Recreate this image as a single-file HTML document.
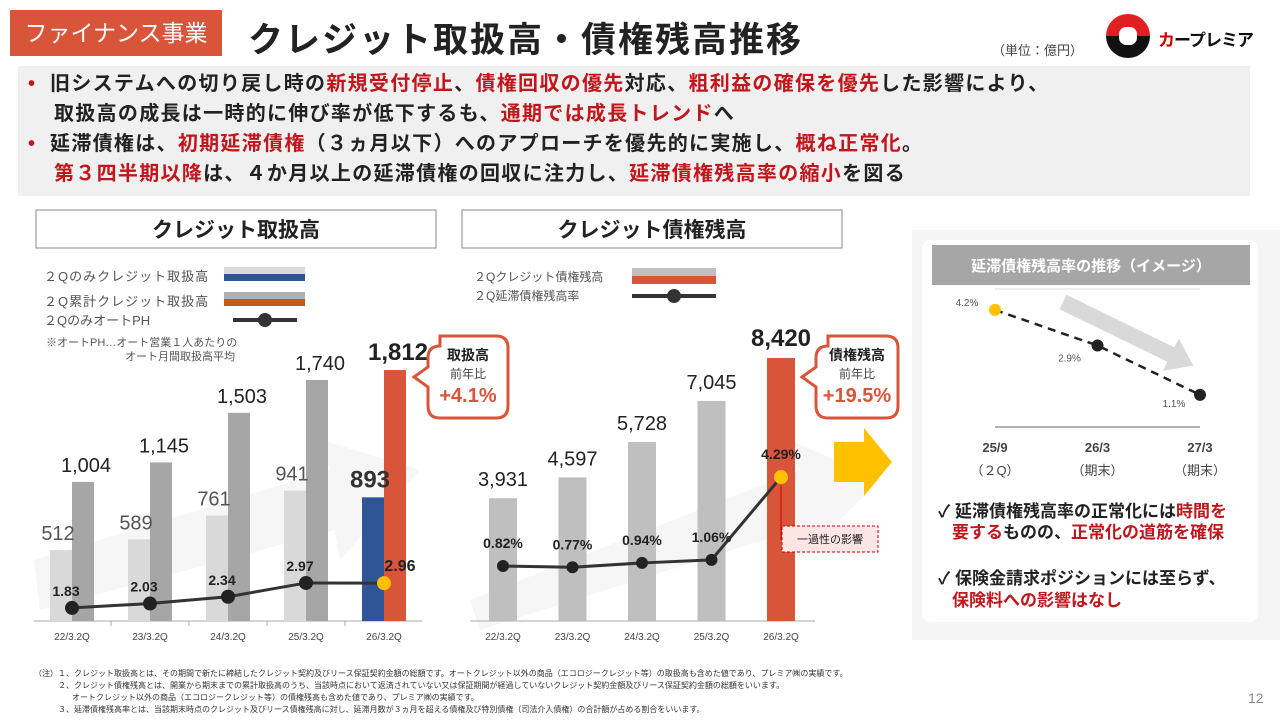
<!DOCTYPE html>
<html><head><meta charset="utf-8">
<style>
*{margin:0;padding:0;box-sizing:border-box}
body{width:1280px;height:720px;background:#fff;position:relative;overflow:hidden;font-family:"Liberation Sans","Noto Sans CJK JP",sans-serif;color:#222}
.a{position:absolute}
.r{color:#c0161c}
.bl{font-size:20px;font-weight:bold;line-height:30px;letter-spacing:1.3px;white-space:nowrap}
</style></head><body>
<div class="a" style="left:10px;top:10px;width:212px;height:46px;background:#d9553a;color:#fff;font-size:23px;line-height:46px;text-align:center">ファイナンス事業</div>
<div class="a" style="left:248px;top:12px;font-size:35px;font-weight:bold;letter-spacing:2px">クレジット取扱高・債権残高推移</div>
<div class="a" style="left:992px;top:40px;font-size:13px;color:#444">（単位：億円）</div>
<div class="a" style="left:1106px;top:14px;width:44px;height:44px;border-radius:50%;background:linear-gradient(#e02020 50%,#111 50%)"><div style="position:absolute;left:13px;top:13px;width:18px;height:18px;background:#fff;border-radius:40%"></div></div>
<div class="a" style="left:1158px;top:26px;font-size:17px;font-weight:bold;color:#111;white-space:nowrap;letter-spacing:-1px"><span style="color:#c00">カ</span>ープレミア</div>
<div class="a" style="left:18px;top:66px;width:1232px;height:130px;background:#f0f0f0;padding:3px 0 0 10px">
<div class="bl"><span class="r">•</span>&nbsp; 旧システムへの切り戻し時の<span class="r">新規受付停止</span>、<span class="r">債権回収の優先</span>対応、<span class="r">粗利益の確保を優先</span>した影響により、</div>
<div class="bl" style="padding-left:26px">取扱高の成長は一時的に伸び率が低下するも、<span class="r">通期では成長トレンド</span>へ</div>
<div class="bl"><span class="r">•</span>&nbsp; 延滞債権は、<span class="r">初期延滞債権</span>（３ヵ月以下）へのアプローチを優先的に実施し、<span class="r">概ね正常化</span>。</div>
<div class="bl" style="padding-left:26px"><span class="r">第３四半期以降</span>は、４か月以上の延滞債権の回収に注力し、<span class="r">延滞債権残高率の縮小</span>を図る</div>
</div>
<div class="a" style="left:912px;top:230px;width:368px;height:410px;background:#f5f5f5"></div>
<svg class="a" id="svg" width="1280" height="720" style="left:0;top:0"></svg>
<div class="a" style="left:34px;top:668px;font-size:8px;line-height:12px;color:#333">
<div>（注）１、クレジット取扱高とは、その期間で新たに締結したクレジット契約及びリース保証契約金額の総額です。オートクレジット以外の商品（エコロジークレジット等）の取扱高も含めた値であり、プレミア㈱の実績です。</div>
<div style="padding-left:24px">２、クレジット債権残高とは、開業から期末までの累計取扱高のうち、当該時点において返済されていない又は保証期間が経過していないクレジット契約金額及びリース保証契約金額の総額をいいます。</div>
<div style="padding-left:38px">オートクレジット以外の商品（エコロジークレジット等）の債権残高も含めた値であり、プレミア㈱の実績です。</div>
<div style="padding-left:24px">３、延滞債権残高率とは、当該期末時点のクレジット及びリース債権残高に対し、延滞月数が３ヵ月を超える債権及び特別債権（司法介入債権）の合計額が占める割合をいいます。</div>
</div>
<div class="a" style="left:1248px;top:690px;font-size:14px;color:#888">12</div>
<script>
const catsL=["22/3.2Q","23/3.2Q","24/3.2Q","25/3.2Q","26/3.2Q"];
const q2Only=[512,589,761,941,893];
const q2Cum=[1004,1145,1503,1740,1812];
const autoPH=[1.83,2.03,2.34,2.97,2.96];
const catsM=["22/3.2Q","23/3.2Q","24/3.2Q","25/3.2Q","26/3.2Q"];
const balance=[3931,4597,5728,7045,8420];
const delinq=[0.82,0.77,0.94,1.06,4.29];
const catsR=["25/9","26/3","27/3"];
const catsR2=["（２Q）","（期末）","（期末）"];
const ratio=[4.2,2.9,1.1];

const S=document.getElementById('svg');const NS='http://www.w3.org/2000/svg';
function el(t,a,txt){const e=document.createElementNS(NS,t);for(const k in a)e.setAttribute(k,a[k]);if(txt!==undefined)e.textContent=txt;S.appendChild(e);return e;}
const F='"Liberation Sans","Noto Sans CJK JP",sans-serif';
let e;
e=el('rect',{x:36,y:210,width:400,height:38,fill:'#fff',stroke:'#888'});
e=el('text',{x:236,y:237,'text-anchor':'middle','font-size':21,'font-weight':'bold','font-family':F,fill:'#222'},'クレジット取扱高');
e=el('rect',{x:462,y:210,width:380,height:38,fill:'#fff',stroke:'#888'});
e=el('text',{x:652,y:237,'text-anchor':'middle','font-size':21,'font-weight':'bold','font-family':F,fill:'#222'},'クレジット債権残高');
// faint background arrows
e=el('polygon',{points:'34,560 330,470 322,440 420,470 340,560 335,530 40,610',fill:'#f6f6f6'});
e=el('polygon',{points:'470,600 800,470 790,440 880,480 800,560 795,530 480,630',fill:'#f6f6f6'});
const lg=[['２Qのみクレジット取扱高','#d9d9d9','#2f5597',275],['２Q累計クレジット取扱高','#b0b0b0','#c55a11',300]];
lg.forEach((g,i)=>{e=el('text',{x:44,y:g[3]+6,'font-size':13,'font-family':F,fill:'#555','letter-spacing':1},g[0]);
el('rect',{x:224,y:g[3]-8,width:81,height:7,fill:g[1]});el('rect',{x:224,y:g[3]-1,width:81,height:7,fill:g[2]});});
e=el('text',{x:44,y:325,'font-size':13,'font-family':F,fill:'#555'},'２QのみオートPH');
el('line',{x1:233,y1:320,x2:297,y2:320,stroke:'#333','stroke-width':4});el('circle',{cx:265,cy:320,r:7,fill:'#333'});
e=el('text',{x:46,y:346,'font-size':11,'font-family':F,fill:'#555'},'※オートPH…オート営業１人あたりの');
el('text',{x:125,y:360,'font-size':11,'font-family':F,fill:'#555'},'オート月間取扱高平均');
const base=621, kL=0.1385, x0L=72, dxL=78;
const xL=i=>x0L+i*dxL, yB=v=>base-v*kL, yPH=v=>648-v*21.9;
el('line',{x1:34,y1:base,x2:422,y2:base,stroke:'#aaa'});
catsL.forEach((c,i)=>{const last=i===catsL.length-1;
e=el('rect',{x:xL(i)-22,y:yB(q2Only[i]),width:22,height:q2Only[i]*kL,fill:last?'#2f5597':'#d9d9d9'});
e=el('rect',{x:xL(i),y:yB(q2Cum[i]),width:22,height:q2Cum[i]*kL,fill:last?'#d9553a':'#a6a6a6'});
el('text',{x:xL(i)-14,y:yB(q2Only[i])-10,'text-anchor':'middle','font-size':last?24:20,'font-weight':last?'bold':'normal','font-family':F,fill:last?'#333':'#555'},q2Only[i].toLocaleString('en-US'));
el('text',{x:xL(i)+14,y:yB(q2Cum[i])-10,'text-anchor':'middle','font-size':last?24:20,'font-weight':last?'bold':'normal','font-family':F,fill:'#222'},q2Cum[i].toLocaleString('en-US'));
e=el('text',{x:xL(i),y:640,'text-anchor':'middle','font-size':10,'font-family':F,fill:'#444'},c);
if(i<4)el('line',{x1:xL(i)+39,y1:base,x2:xL(i)+39,y2:base+5,stroke:'#aaa'});});
e=el('polyline',{points:autoPH.map((v,i)=>xL(i)+','+yPH(v)).join(' '),fill:'none',stroke:'#333','stroke-width':3});
autoPH.forEach((v,i)=>{const last=i===autoPH.length-1;
e=el('circle',{cx:xL(i),cy:yPH(v),r:7,fill:last?'#ffc000':'#222'});
el('text',{x:xL(i)+(last?16:-6),y:yPH(v)-12,'text-anchor':'middle','font-size':last?16:14,'font-weight':'bold','font-family':F,fill:'#222'},v.toFixed(2));});
function callout(x,y,w,h,t1,t2,t3,nm){e=el('path',{d:`M${x+12},${y} h${w-24} q12,0 12,12 v${h-24} q0,12 -12,12 h-${w-24} q-12,0 -12,-12 v-${h/2-22} l-14,-10 l14,-10 v-${h/2-32} q0,-12 12,-12z`,fill:'#fff',stroke:'#d9553a','stroke-width':3});
el('text',{x:x+w/2,y:y+24,'text-anchor':'middle','font-size':14,'font-weight':'bold','font-family':F,fill:'#222'},t1);
el('text',{x:x+w/2,y:y+42,'text-anchor':'middle','font-size':12,'font-family':F,fill:'#444'},t2);
el('text',{x:x+w/2,y:y+66,'text-anchor':'middle','font-size':20,'font-weight':'bold','font-family':F,fill:'#d9553a'},t3);}
callout(428,336,80,82,'取扱高','前年比','+4.1%','callout-volume');
callout(816,336,82,82,'債権残高','前年比','+19.5%','callout-balance');
e=el('text',{x:474,y:281,'font-size':12,'font-family':F,fill:'#555'},'２Qクレジット債権残高');
el('rect',{x:632,y:268,width:84,height:8,fill:'#bfbfbf'});el('rect',{x:632,y:276,width:84,height:8,fill:'#d9553a'});
e=el('text',{x:474,y:300,'font-size':12,'font-family':F,fill:'#555'},'２Q延滞債権残高率');
el('line',{x1:632,y1:296,x2:716,y2:296,stroke:'#333','stroke-width':4});el('circle',{cx:674,cy:296,r:7,fill:'#333'});
const kM=0.03124,x0M=503,dxM=69.5;const xM=i=>x0M+i*dxM,yM=v=>base-v*kM,yD=v=>587-v*25.6;
el('line',{x1:470,y1:base,x2:815,y2:base,stroke:'#aaa'});
catsM.forEach((c,i)=>{const last=i===catsM.length-1;
e=el('rect',{x:xM(i)-14,y:yM(balance[i]),width:28,height:balance[i]*kM,fill:last?'#d9553a':'#bfbfbf'});
el('text',{x:xM(i),y:yM(balance[i])-12,'text-anchor':'middle','font-size':last?24:20,'font-weight':last?'bold':'normal','font-family':F,fill:'#222'},balance[i].toLocaleString('en-US'));
e=el('text',{x:xM(i),y:640,'text-anchor':'middle','font-size':10,'font-family':F,fill:'#444'},c);});
e=el('polyline',{points:delinq.map((v,i)=>xM(i)+','+yD(v)).join(' '),fill:'none',stroke:'#333','stroke-width':3});
delinq.forEach((v,i)=>{const last=i===delinq.length-1;
e=el('circle',{cx:xM(i),cy:yD(v),r:last?7:6,fill:last?'#ffc000':'#222'});
el('text',{x:xM(i),y:yD(v)-18,'text-anchor':'middle','font-size':14,'font-weight':'bold','font-family':F,fill:'#222'},v.toFixed(2)+'%');});
el('line',{x1:xM(4),y1:yD(4.29)+8,x2:xM(4),y2:540,stroke:'#c00'});
e=el('rect',{x:782,y:526,width:96,height:26,fill:'#fbe5e5',stroke:'#c00','stroke-dasharray':'3,2'});
el('text',{x:830,y:543,'text-anchor':'middle','font-size':11,'font-family':F,fill:'#222'},'一過性の影響');
e=el('polygon',{points:'834,442 864,442 864,428 892,462 864,496 864,482 834,482',fill:'#ffc000'});
e=el('rect',{x:922,y:240,width:336,height:382,rx:8,fill:'#fff'});
e=el('rect',{x:932,y:245,width:318,height:40,fill:'#a6a6a6'});
el('text',{x:1091,y:271,'text-anchor':'middle','font-size':15,'font-weight':'bold','font-family':F,fill:'#fff'},'延滞債権残高率の推移（イメージ）');
el('line',{x1:995,y1:289,x2:1200,y2:289,stroke:'#ddd'});
el('line',{x1:995,y1:427,x2:1200,y2:427,stroke:'#666'});
e=el('polygon',{points:'0,-8 120,-8 120,-18 145,0 120,18 120,8 0,8',fill:'#d9d9d9',transform:'translate(1063,302) rotate(26)'});
const x0R=995,dxR=102.5,xR=i=>x0R+i*dxR,yR=v=>425-v*27.4;
e=el('polyline',{points:ratio.map((v,i)=>xR(i)+','+yR(v)).join(' '),fill:'none',stroke:'#222','stroke-width':2.5,'stroke-dasharray':'8,6'});
const off=[[-28,-4],[-28,16],[-26,12]];
ratio.forEach((v,i)=>{e=el('circle',{cx:xR(i),cy:yR(v),r:6,fill:i===0?'#ffc000':'#222'});
el('text',{x:xR(i)+off[i][0],y:yR(v)+off[i][1],'text-anchor':'middle','font-size':10,'font-family':F,fill:'#555'},v.toFixed(1)+'%');
e=el('text',{x:xR(i),y:452,'text-anchor':'middle','font-size':13,'font-weight':'bold','font-family':F,fill:'#444'},catsR[i]);
el('text',{x:xR(i),y:475,'text-anchor':'middle','font-size':13,'font-family':F,fill:'#444'},catsR2[i]);});
const rt=[[938,517,[['✓ 延滞債権残高率の正常化には','#222'],['時間を','#c0161c']]],[952,538,[['要する','#c0161c'],['ものの、','#222'],['正常化の道筋を確保','#c0161c']]],[938,584,[['✓ 保険金請求ポジションには至らず、','#222']]],[952,606,[['保険料への影響はなし','#c0161c']]]];
rt.forEach(r=>{e=el('text',{x:r[0],y:r[1],'font-size':17,'font-weight':'bold','font-family':F});
r[2].forEach(s=>{const t=document.createElementNS(NS,'tspan');t.setAttribute('fill',s[1]);t.textContent=s[0];e.appendChild(t);});});
</script>
</body></html>
